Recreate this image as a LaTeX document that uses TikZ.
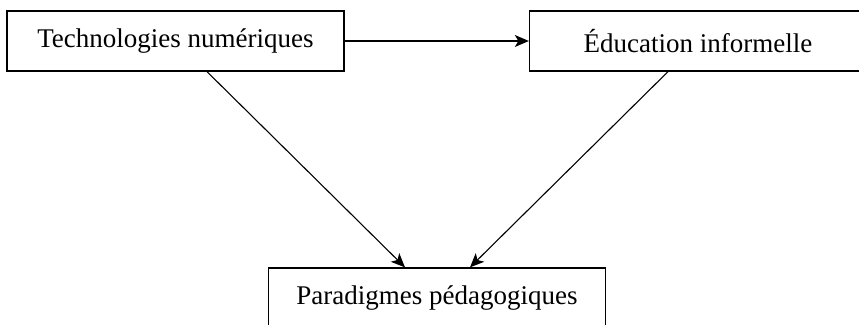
\documentclass[tikz,border=0pt]{standalone}
\usepackage{fontspec}
\setmainfont{Liberation Serif}
\usetikzlibrary{arrows.meta, calc, positioning}

\begin{document}
\begin{tikzpicture}[x=1pt, y=-1pt,
    box/.style={draw, line width=1.3pt, minimum width=337pt, minimum height=60pt, inner sep=0pt, font=\fontsize{27}{32}\selectfont},
    link/.style={line width=1.1pt, -{Stealth[length=14pt, width=12pt, inset=3.5pt]}}]
                        \useasboundingbox (0, 0) rectangle (859, 324);
                        \clip (0, 0) rectangle (859, 324);
                        \node[box] (0) at (175.5, 41) {Technologies numériques};
                        \node[box] (1) at (698, 41) {Éducation informelle};
                        \node[box] (2) at (437, 298) {Paradigmes pédagogiques};
                        \draw
                        (0.east) edge[link] (1.west)
                        ([xshift=31.5pt]0.south) edge[link] ([xshift=-32pt]2.north)
                        ([xshift=-30pt]1.south) edge[link] ([xshift=33pt]2.north);
                    \end{tikzpicture}
\end{document}
